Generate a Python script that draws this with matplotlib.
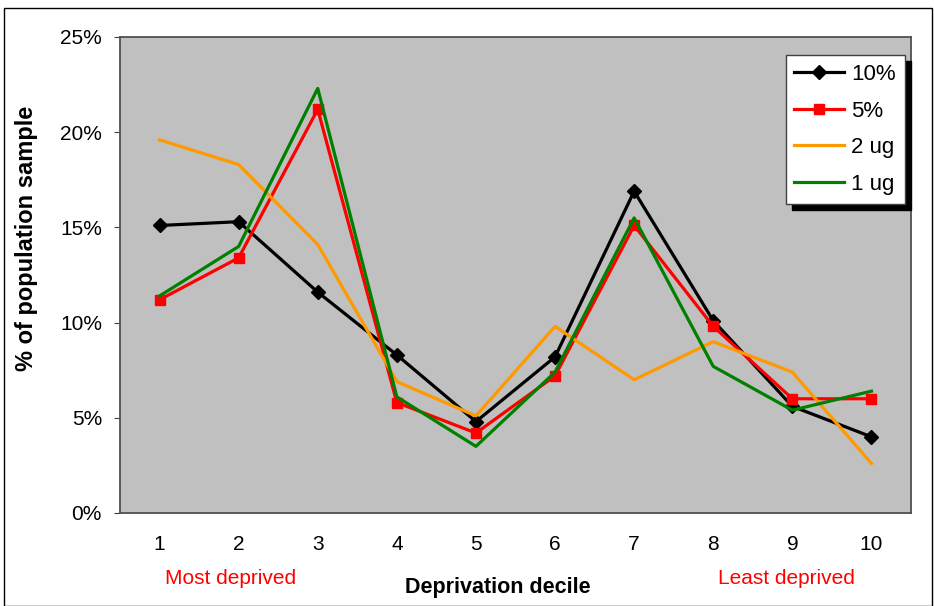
import numpy as np
import matplotlib
matplotlib.use("Agg")
import matplotlib.pyplot as plt
from matplotlib.ticker import FuncFormatter
from matplotlib.patches import Rectangle

plt.rcParams['font.family'] = ['Liberation Sans', 'DejaVu Sans']

deciles = [1, 2, 3, 4, 5, 6, 7, 8, 9, 10]
pct10 = [15.1, 15.3, 11.6, 8.3, 4.8, 8.2, 16.9, 10.1, 5.6, 4.0]
pct5 = [11.2, 13.4, 21.2, 5.8, 4.2, 7.2, 15.1, 9.8, 6.0, 6.0]
ug2 = [19.6, 18.3, 14.1, 6.9, 5.1, 9.8, 7.0, 9.0, 7.4, 2.6]
ug1 = [11.4, 14.0, 22.3, 6.1, 3.5, 7.4, 15.5, 7.7, 5.4, 6.4]
yticks = [0, 5, 10, 15, 20, 25]

fig = plt.figure(figsize=(9.34, 6.06), dpi=100)
ax = fig.add_axes([120/934, 1-513/606, 791/934, 476/606])
ax.set_facecolor('#c0c0c0')

ax.plot(deciles, pct10, color='black', lw=2.3, marker='D', ms=7, label='10%')
ax.plot(deciles, pct5, color='red', lw=2.3, marker='s', ms=7.5, label='5%')
ax.plot(deciles, ug2, color='#ff9900', lw=2.3, label='2 ug')
ax.plot(deciles, ug1, color='green', lw=2.3, label='1 ug')

ax.set_xlim(0.5, 10.5)
ax.set_ylim(0, 25)
ax.set_xticks(deciles)
ax.set_yticks(yticks)
ax.yaxis.set_major_formatter(FuncFormatter(lambda v, p: '%d%%' % v))
ax.tick_params(axis='x', length=0, pad=16, labelsize=15)
ax.tick_params(axis='y', length=4, pad=9, labelsize=15, color='#404040')
for s in ax.spines.values():
    s.set_color('#505050')
    s.set_linewidth(1.3)

leg = ax.legend(loc='upper right', bbox_to_anchor=(0.992, 0.962), borderaxespad=0,
                fontsize=16, frameon=True, fancybox=False,
                shadow={'ox': 4.5, 'oy': -4.5, 'facecolor': 'black', 'edgecolor': 'black', 'alpha': 1},
                handlelength=2.25, labelspacing=0.7, borderpad=0.4, handletextpad=0.3)
leg.get_frame().set_edgecolor('#404040')
leg.get_frame().set_linewidth(1)
leg.get_frame().set_facecolor('white')

fig.text(27/934, 1-238/606, '% of population sample', rotation=90, ha='center', va='center',
         fontsize=17, fontweight='bold')
fig.text(498/934, 1-588/606, 'Deprivation decile', ha='center', va='center',
         fontsize=15.5, fontweight='bold')
fig.text(231/934, 1-579/606, 'Most deprived', ha='center', va='center', fontsize=15, color='red')
fig.text(786/934, 1-579/606, 'Least deprived', ha='center', va='center', fontsize=15, color='red')

fig.patches.append(Rectangle((4/934, 0), 928/934, 1-8/606, transform=fig.transFigure,
                             fill=False, edgecolor='black', lw=1))

fig.savefig('out.png', dpi=100)
